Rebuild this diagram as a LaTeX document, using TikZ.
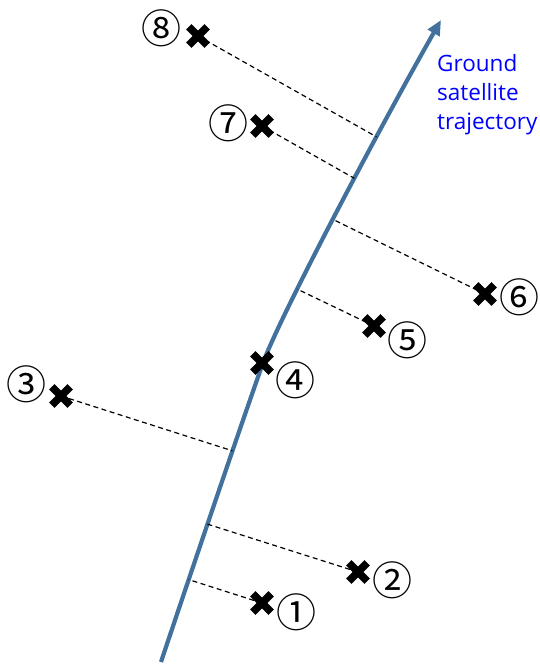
\documentclass[tikz,border=0pt]{standalone}
\usepackage{fontspec}
\setmainfont{Open Sans}
\newfontfamily\cjk{Noto Sans CJK KR}
\usetikzlibrary{arrows.meta,calc,intersections}
\definecolor{traj}{RGB}{65,113,156}
\definecolor{lblue}{RGB}{0,0,255}
\tikzset{
  crossmark/.style={minimum size=25pt, inner sep=0pt, outer sep=0pt,
    path picture={
      \draw[line width=7.5pt,black]
        ([shift={(3.3pt,3.3pt)}]path picture bounding box.south west) --
        ([shift={(-3.3pt,-3.3pt)}]path picture bounding box.north east);
      \draw[line width=7.5pt,black]
        ([shift={(3.3pt,-3.3pt)}]path picture bounding box.north west) --
        ([shift={(-3.3pt,3.3pt)}]path picture bounding box.south east);
    }},
  circnum/.style={inner sep=0pt, font=\cjk\fontsize{40}{40}\selectfont},
  perp/.style={draw=black, line width=1.2pt, dash pattern=on 5pt off 3.5pt},
  trajline/.style={draw=traj, line width=4.2pt, -{Triangle[length=15pt,width=13pt]}},
  trajlabel/.style={text=lblue, align=left, inner sep=0pt, anchor=north west,
    font=\fontsize{22.5}{29}\selectfont}
}
\begin{document}
\begin{tikzpicture}[x=1pt,y=-1pt]
\useasboundingbox (0,0) rectangle (540,666);
% approximate foot points on the trajectory
\coordinate (f1) at (190,580);
\coordinate (f2) at (207,524);
\coordinate (f3) at (233,451);
\coordinate (f5) at (299,290);
\coordinate (f6) at (330,218);
\coordinate (f7) at (352,177);
\coordinate (f8) at (375,136);
% trajectory
\draw[trajline, name path=trajp] (161,662) .. controls (185,590) and (246,410) .. (263,363)
  .. controls (279.2,318) and (378.3,130) .. (441,20);
% crosses
\node[crossmark] (c1) at (262,603) {};
\node[crossmark] (c2) at (358,572) {};
\node[crossmark] (c3) at (61,396) {};
\node[crossmark] (c4) at (262,363) {};
\node[crossmark] (c5) at (374,326) {};
\node[crossmark] (c6) at (485,294) {};
\node[crossmark] (c7) at (262,126) {};
\node[crossmark] (c8) at (198,36) {};
% perpendiculars, ending exactly on the trajectory
\foreach \i in {1,2,3,5,6,7,8}{
  \path[name path=aux\i] (c\i.center) -- ($(c\i.center)!1.25!(f\i)$);
  \path[name intersections={of=trajp and aux\i, by={g\i}}];
  \draw[perp] (c\i.center) -- (g\i);
}
% numbers
\node[circnum] (n1) at (296,612) {①};
\node[circnum] (n2) at (392,580) {②};
\node[circnum] (n3) at (26,384) {③};
\node[circnum] (n4) at (295,380) {④};
\node[circnum] (n5) at (407,340) {⑤};
\node[circnum] (n6) at (519,297) {⑥};
\node[circnum] (n7) at (228,123) {⑦};
\node[circnum] (n8) at (161,28) {⑧};
% label
\node[trajlabel] (lab) at (437,54) {Ground\\satellite\\trajectory};
\end{tikzpicture}
\end{document}
